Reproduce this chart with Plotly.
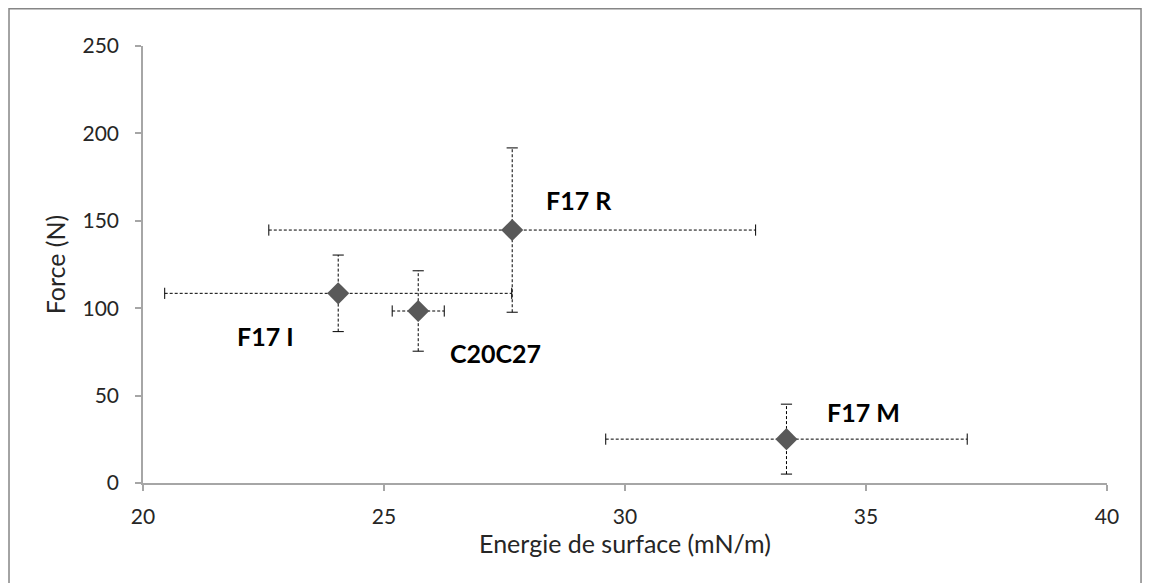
import plotly.graph_objects as go

# values
names = ['F17 R', 'F17 I', 'C20C27', 'F17 M']
energie = [27.66, 24.05, 25.71, 33.35]
force = [144.7, 108.5, 98.4, 25.1]
err_energie = [5.05, 3.6, 0.54, 3.75]
err_force = [47.0, 21.9, 23.0, 20.0]

x_ticks = [20, 25, 30, 35, 40]
y_ticks = [0, 50, 100, 150, 200, 250]

# label offsets in pixels relative to each point (x right, y down)
label_off = {'F17 R': (67, -30), 'F17 I': (-73, 43),
             'C20C27': (77, 42), 'F17 M': (77, -27)}

FONT = 'Lato'
GREY_AX = '#a6a6a6'
TXT = '#262626'
DASH = '3px,2px'


def bar_paths():
    '''build the dashed error bar paths and their end caps'''
    hx, hy, vx, vy = [], [], [], []
    cap_h_x, cap_h_y, cap_v_x, cap_v_y = [], [], [], []
    for x, y, ex, ey in zip(energie, force, err_energie, err_force):
        hx += [x - ex, x + ex, None]
        hy += [y, y, None]
        vx += [x, x, None]
        vy += [y - ey, y + ey, None]
        cap_h_x += [x - ex, x + ex]
        cap_h_y += [y, y]
        cap_v_x += [x, x]
        cap_v_y += [y - ey, y + ey]
    return hx, hy, vx, vy, cap_h_x, cap_h_y, cap_v_x, cap_v_y


hx, hy, vx, vy, chx, chy, cvx, cvy = bar_paths()

fig = go.Figure()
line_style = dict(color='black', width=1, dash=DASH)
fig.add_trace(go.Scatter(x=hx, y=hy, mode='lines', line=line_style,
                         hoverinfo='skip', showlegend=False))
fig.add_trace(go.Scatter(x=vx, y=vy, mode='lines', line=line_style,
                         hoverinfo='skip', showlegend=False))
fig.add_trace(go.Scatter(x=chx, y=chy, mode='markers', hoverinfo='skip',
                         showlegend=False,
                         marker=dict(symbol='line-ns-open', size=8,
                                     color='black',
                                     line=dict(color='black', width=1))))
fig.add_trace(go.Scatter(x=cvx, y=cvy, mode='markers', hoverinfo='skip',
                         showlegend=False,
                         marker=dict(symbol='line-ew-open', size=8,
                                     color='black',
                                     line=dict(color='black', width=1))))
fig.add_trace(go.Scatter(x=energie, y=force, mode='markers', text=names,
                         showlegend=False,
                         marker=dict(symbol='diamond', size=17,
                                     color='#595959',
                                     line=dict(width=0))))

for name, x, y in zip(names, energie, force):
    dx, dy = label_off[name]
    fig.add_annotation(x=x, y=y, text=f'<b>{name}</b>', showarrow=False,
                       xshift=dx, yshift=-dy,
                       font=dict(family=FONT, size=25, color='black'))

# outer chart border like the spreadsheet frame
fig.add_shape(type='rect', xref='paper', yref='paper',
              x0=-0.139, x1=1.0353, y0=-0.35, y1=1.085,
              line=dict(color='#868686', width=1.5))

axis_common = dict(showgrid=False, zeroline=False, showline=True,
                   linecolor=GREY_AX, linewidth=1.5, ticks='outside',
                   ticklen=6, tickcolor=GREY_AX, tickwidth=1.5,
                   tickfont=dict(family=FONT, size=21, color=TXT))

fig.update_xaxes(range=[20, 40], tickvals=x_ticks, ticklabelstandoff=8,
                 title=dict(text='Energie de surface (mN/m)',
                            font=dict(family=FONT, size=25, color=TXT),
                            standoff=8),
                 **axis_common)
fig.update_yaxes(range=[0, 250], tickvals=y_ticks, ticklabelstandoff=12,
                 title=dict(text='Force (N)',
                            font=dict(family=FONT, size=25, color=TXT),
                            standoff=10),
                 **axis_common)

# page body adds 8px, so the figure is 8px smaller than the window
fig.update_layout(width=1145, height=575,
                  margin=dict(l=135, r=46, t=38, b=100),
                  plot_bgcolor='white', paper_bgcolor='white')

fig.write_html("out.html")
